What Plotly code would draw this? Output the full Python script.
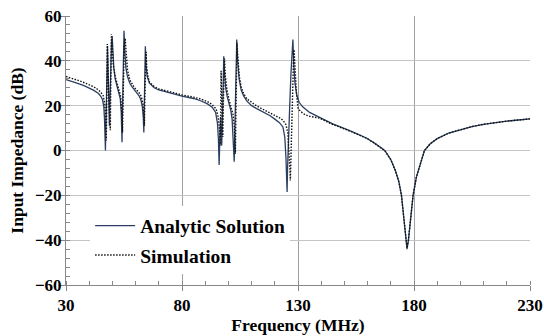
import plotly.graph_objects as go

# Analytic solution (solid)
analytic_f = [30, 32, 34, 36, 38, 40, 42, 44, 45, 45.8, 46.3, 46.6, 46.85, 47.0, 47.15, 47.35, 47.6, 47.9,
              48.1, 48.3, 48.5, 48.7, 48.9, 49.2, 49.6, 49.9, 50.2, 50.6, 51.2, 52, 52.8, 53.4, 53.8, 54.0,
              54.15, 54.3, 54.55, 54.8, 55.0, 55.3, 55.8, 56.5, 57.5, 58.5, 59.5, 60.5, 61.5, 62.3, 62.9,
              63.3, 63.55, 63.75, 64.0, 64.2, 64.5, 65, 66, 68, 70, 75, 80, 85, 88, 91, 93, 94.5, 95.3,
              95.7, 96.0, 96.3, 96.6, 96.9, 97.1, 97.4, 97.7, 98.0, 98.3, 98.8, 99.5, 100.3, 101.0, 101.6,
              102.1, 102.5, 102.8, 103.2, 103.6, 104.0, 104.6, 105.5, 106.5, 108, 110, 112, 115, 118, 120,
              122, 123.5, 124.3, 124.8, 125.1, 125.3, 125.5, 125.9, 126.5, 127.0, 127.5, 127.8, 128.2,
              128.7, 129.5, 130.5, 132, 135, 139.3, 145, 152.3, 159.5, 163, 167.4, 170, 172, 173.5, 174.6,
              175.6, 176.6, 177.0, 177.6, 178.6, 179.6, 181, 182.5, 184.5, 187, 190, 195, 200, 205, 210,
              215, 220, 225, 230]
analytic_db = [31.6, 31.0, 30.3, 29.6, 28.8, 27.9, 26.8, 25.4, 24.2, 22.5, 19.5, 14, 6, 0, 8, 25, 40, 46.5,
               38, 25, 15, 11, 20, 38, 48, 51, 44, 37, 32, 28.5, 26, 23, 17, 9,
               3.7, 15, 35, 48, 53.4, 45, 37, 33, 30, 28.4, 27, 25.8, 24.4, 22.5, 19.5,
               15, 8, 20, 38, 46.5, 38, 33, 30, 28, 27, 25.5, 24.3, 23.2, 22.2, 20.8, 19.3, 17, 12,
               5, -6.5, 5, 15, 8, 2.2, 12, 28, 42, 35, 28, 24, 21, 18, 14,
               6, -5, 10, 32, 49.5, 40, 32, 27, 24.5, 22, 20, 18.8, 17.2, 15.5, 14,
               12.4, 10.5, 6, -3, -12, -18.5, -8, 8, 22, 35, 45, 49.5, 38,
               30, 24.5, 21.5, 19.5, 17, 14.8, 11.9, 8.9, 5.6, 3.3, 0, -4, -9, -14, -20,
               -30, -40, -44, -40, -30, -20, -12, -6.5, 0, 3, 5.3, 7.8, 9.4, 10.7, 11.7,
               12.5, 13.1, 13.6, 14.1]

# Simulation (dotted)
sim_f = [30, 32, 34, 36, 38, 40, 42, 44, 45, 46, 46.7, 47.1, 47.35, 47.5, 47.65, 47.8, 48.0, 48.3, 48.7,
         49.0, 49.1, 49.25, 49.45, 49.6, 49.9, 50.4, 51.2, 52, 52.8, 53.5, 53.9, 54.2, 54.35, 54.6, 54.9,
         55.1, 55.5, 55.9, 56.5, 57.5, 58.5, 59.5, 60.5, 61.5, 62.5, 63.2, 63.6, 63.8, 64.0, 64.3, 64.5,
         64.8, 65.3, 66, 68, 70, 75, 80, 85, 88, 91, 93, 94.7, 95.6, 96.1, 96.4, 96.6, 96.75, 96.85,
         97.1, 97.4, 97.6, 97.8, 98.1, 98.3, 98.7, 99.4, 100.3, 101.2, 102, 102.6, 103.0, 103.3, 103.7,
         104.1, 104.7, 105.5, 106.5, 108, 110, 112, 115, 118, 120, 122, 123.5, 124.8, 125.6, 126.2,
         126.5, 126.7, 126.9, 127.3, 127.7, 128.1, 128.3, 128.7, 129.3, 130, 131, 133, 135, 139.3, 145,
         152.3, 159.5, 163, 167.4, 170, 172, 173.5, 174.6, 175.6, 176.6, 177.0, 177.6, 178.6, 179.6,
         181, 182.5, 184.5, 187, 190, 195, 200, 205, 210, 215, 220, 225, 230]
sim_db = [33.0, 32.4, 31.7, 31.0, 30.2, 29.4, 28.4, 27.0, 26, 24.5, 21, 15, 4.5, 15, 35, 47.5, 40, 28, 18,
          10, 9, 25, 45, 52, 46, 38, 33, 29.5, 27, 24.5, 20, 13, 8, 22, 38,
          46, 50, 42, 36, 31.5, 29.5, 28, 27, 25.8, 24, 20.5, 15, 11, 24, 40, 44,
          37, 33, 30.5, 28.5, 27.5, 26, 24.8, 23.8, 23, 21.8, 20.5, 18.5, 15, 10, 5, 2.2, 20, 35.6,
          25, 10, 6, 20, 36, 41, 33, 27, 22.5, 19.5, 16, 10, -1.5, 20, 48,
          41, 33, 28.5, 25.5, 23, 21.3, 20, 18.3, 16.8, 15.8, 14.6, 13.5, 11.5, 8, 0,
          -8, -13.4, -3, 15, 32, 42, 45, 36, 26, 19, 17.5, 16, 15.3, 14.4, 11.6,
          8.7, 5.5, 3.2, -0.1, -4.1, -9.1, -14.1, -20.1, -30, -40, -43.5, -40, -30, -20,
          -12, -6.6, 0, 3, 5.3, 7.8, 9.4, 10.7, 11.7, 12.5, 13.1, 13.6, 14.1]

font_family = "Liberation Serif, Times New Roman, serif"

fig = go.Figure()
fig.add_trace(go.Scatter(x=analytic_f, y=analytic_db, mode="lines", name="Analytic Solution",
                         line=dict(color="#2b3f63", width=1.3), legendgroup="a"))
fig.add_trace(go.Scatter(x=sim_f, y=sim_db, mode="lines", name="Simulation",
                         line=dict(color="#111111", width=1.4, dash="1.5px,1.5px"), legendgroup="b"))

fig.update_layout(
    width=544, height=336,
    margin=dict(l=66, r=14, t=16, b=51),
    paper_bgcolor="white", plot_bgcolor="white",
    font=dict(family=font_family, size=17, color="black", weight="bold"),
    showlegend=True,
    legend=dict(x=0.052, y=0.292, xanchor="left", yanchor="top", bgcolor="white",
                itemwidth=40,
                font=dict(family=font_family, size=19.5, color="black", weight="bold"),
                tracegroupgap=1, traceorder="grouped"),
)
fig.update_xaxes(range=[30, 230], tick0=30, dtick=50, showgrid=True, gridcolor="#a0a0a0", gridwidth=1,
                 showline=True, linecolor="#888888", linewidth=1, ticks="outside", ticklen=5,
                 tickcolor="#888888", zeroline=False, automargin=False, ticklabeloverflow="allow",
                 minor=dict(dtick=10, ticks="inside", ticklen=4, tickcolor="#888888", showgrid=False),
                 title=dict(text="Frequency (MHz)", standoff=2,
                            font=dict(family=font_family, size=17.5, weight="bold")),
                 tickfont=dict(family=font_family, size=17, weight="bold"))
fig.update_yaxes(range=[-60, 60], dtick=20, showgrid=True, gridcolor="#c4c4c4", gridwidth=1.3,
                 showline=True, linecolor="#888888", linewidth=1, ticks="outside", ticklen=5,
                 tickcolor="#888888", zeroline=False, automargin=False, ticklabeloverflow="allow",
                 ticklabelstandoff=-5,
                 minor=dict(dtick=4, ticks="inside", ticklen=4, tickcolor="#888888", showgrid=False),
                 title=dict(text="Input Impedance (dB)", standoff=6,
                            font=dict(family=font_family, size=17.5, weight="bold")),
                 tickfont=dict(family=font_family, size=17, weight="bold"))

# remove the default page margin so the 544x336 figure fills the window exactly
fig.write_html("out.html", config={"displayModeBar": False},
               post_script="document.body.style.margin='0';document.body.style.overflow='hidden';")
